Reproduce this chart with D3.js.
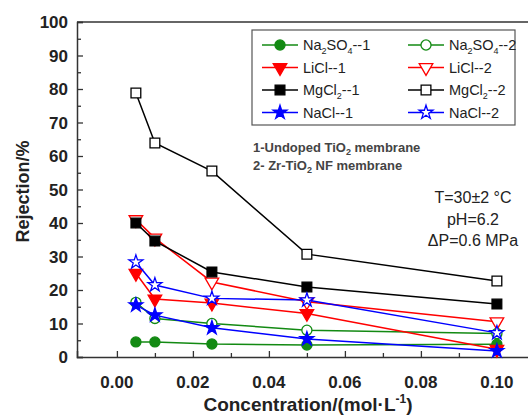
<!DOCTYPE html>
<html>
<head>
<meta charset="utf-8">
<script src="https://cdn.jsdelivr.net/npm/d3@7"></script>
<style>
  body { margin: 0; background: #fff; }
  text { font-family: Arial, "Liberation Sans", sans-serif; }
</style>
</head>
<body>
<div id="chart"></div>
<script>
// concentration values (mol/L) on x axis
const concentrations = [0.005, 0.01, 0.025, 0.05, 0.1];

// rejection (%)
const na2so4_1 = [4.5, 4.5, 3.9, 3.6, 3.8];
const na2so4_2 = [16.3, 11.5, 10.0, 8.0, 7.0];
const licl_1 = [25.0, 17.3, 16.1, 13.0, 2.3];
const licl_2 = [41.0, 35.5, 22.4, 16.5, 10.5];
const mgcl2_1 = [40.0, 34.6, 25.4, 20.9, 15.8];
const mgcl2_2 = [78.8, 63.9, 55.5, 30.7, 22.7];
const nacl_1 = [15.5, 12.5, 8.7, 5.4, 1.8];
const nacl_2 = [28.3, 21.5, 17.5, 17.0, 7.2];

const xTicks = [0, 0.02, 0.04, 0.06, 0.08, 0.10];
const yTicks = [0, 10, 20, 30, 40, 50, 60, 70, 80, 90, 100];

const series = [
    { name: ["Na", "2", "SO", "4", "--1"], values: na2so4_1, color: "#138a13", symbol: "circle", open: false },
    { name: ["Na", "2", "SO", "4", "--2"], values: na2so4_2, color: "#138a13", symbol: "circle", open: true },
    { name: ["LiCl--1"], values: licl_1, color: "#ff0000", symbol: "triangle", open: false },
    { name: ["LiCl--2"], values: licl_2, color: "#ff0000", symbol: "triangle", open: true },
    { name: ["MgCl", "2", "--1"], values: mgcl2_1, color: "#000000", symbol: "square", open: false },
    { name: ["MgCl", "2", "--2"], values: mgcl2_2, color: "#000000", symbol: "square", open: true },
    { name: ["NaCl--1"], values: nacl_1, color: "#0000ff", symbol: "star", open: false },
    { name: ["NaCl--2"], values: nacl_2, color: "#0000ff", symbol: "star", open: true }
];

const W = 528, H = 416;
const margin = { top: 22, right: 0, bottom: 59, left: 77 };

const svg = d3.select("#chart")
    .append("svg")
    .attr("width", W)
    .attr("height", H);

const x = d3.scaleLinear()
    .domain([-0.0105, 0.1095])
    .range([margin.left, 533]);

const y = d3.scaleLinear()
    .domain([0, 100])
    .range([H - margin.bottom, margin.top]);

const symbols = {
    circle: { type: d3.symbolCircle, size: 80, rot: 0 },
    triangle: { type: d3.symbolTriangle, size: 80, rot: 180 },
    square: { type: d3.symbolSquare, size: 95, rot: 0 },
    star: { type: d3.symbolStar, size: 60, rot: 0 }
};

// frame top line
svg.append("line")
    .attr("x1", margin.left).attr("x2", W)
    .attr("y1", y(100)).attr("y2", y(100))
    .attr("stroke", "#333").attr("stroke-width", 1.5);

// x axis, ticks pointing inward
const xAxis = svg.append("g")
    .attr("transform", `translate(0,${y(0)})`)
    .call(d3.axisTop(x).tickValues(d3.range(0, 0.11, 0.01)).tickSize(6).tickFormat(""));
xAxis.select(".domain").attr("stroke", "#333").attr("stroke-width", 1.5);
xAxis.selectAll(".tick line").attr("stroke", "#333").attr("stroke-width", 1.3)
    .attr("y2", (d, i) => i % 2 === 0 ? -6 : -4);

svg.append("g")
    .selectAll("text")
    .data(xTicks)
    .join("text")
    .attr("x", d => x(d))
    .attr("y", y(0) + 31)
    .attr("text-anchor", "middle")
    .attr("font-size", 17)
    .attr("font-weight", "bold")
    .attr("fill", "#222")
    .text(d => d.toFixed(2));

// y axis, ticks pointing inward
const yAxis = svg.append("g")
    .attr("transform", `translate(${margin.left},0)`)
    .call(d3.axisRight(y).tickValues(d3.range(0, 101, 5)).tickSize(6).tickFormat(""));
yAxis.select(".domain").attr("stroke", "#333").attr("stroke-width", 1.5);
yAxis.selectAll(".tick line").attr("stroke", "#333").attr("stroke-width", 1.3)
    .attr("x2", (d, i) => i % 2 === 0 ? 6 : 4);

svg.append("g")
    .selectAll("text")
    .data(yTicks)
    .join("text")
    .attr("x", margin.left - 9)
    .attr("y", d => y(d))
    .attr("dy", "0.36em")
    .attr("text-anchor", "end")
    .attr("font-size", 17)
    .attr("font-weight", "bold")
    .attr("fill", "#222")
    .text(d => d);

// lines and markers
const line = d3.line()
    .x((d, i) => x(concentrations[i]))
    .y(d => y(d));

const drawMarker = (g, s, cx, cy) => {
    const sym = symbols[s.symbol];
    g.append("path")
        .attr("d", d3.symbol().type(sym.type).size(sym.size)())
        .attr("transform", `translate(${cx},${cy}) rotate(${sym.rot})`)
        .attr("fill", s.open ? "#fff" : s.color)
        .attr("stroke", s.color)
        .attr("stroke-width", 1.3);
};

series.forEach(s => {
    const g = svg.append("g");
    g.append("path")
        .datum(s.values)
        .attr("d", line)
        .attr("fill", "none")
        .attr("stroke", s.color)
        .attr("stroke-width", 1.5);
    s.values.forEach((v, i) => drawMarker(g, s, x(concentrations[i]), y(v)));
});

// legend
const legend = svg.append("g");
legend.append("rect")
    .attr("x", 252).attr("y", 30)
    .attr("width", 263).attr("height", 95)
    .attr("fill", "#fff")
    .attr("stroke", "#555")
    .attr("stroke-width", 1.2);

series.forEach((s, i) => {
    const col = i % 2, row = Math.floor(i / 2);
    const lx = 262 + col * 146, ly = 45 + row * 22.5;
    const g = legend.append("g");
    g.append("line")
        .attr("x1", lx).attr("x2", lx + 36)
        .attr("y1", ly).attr("y2", ly)
        .attr("stroke", s.color).attr("stroke-width", 1.5);
    drawMarker(g, s, lx + 18, ly);
    const t = g.append("text")
        .attr("x", lx + 41)
        .attr("y", ly + 5)
        .attr("font-size", 14.5)
        .attr("fill", "#222");
    s.name.forEach((part, j) => {
        const sub = s.name.length > 1 && j % 2 === 1;
        t.append("tspan")
            .attr("font-size", sub ? 9 : 14.5)
            .attr("dy", sub ? 4 : (j > 0 ? -4 : 0))
            .text(part);
    });
});

// annotations
const note = svg.append("g")
    .attr("font-family", "'Open Sans', sans-serif")
    .attr("font-size", 13)
    .attr("font-weight", "600")
    .attr("fill", "#444");
const n1 = note.append("text").attr("x", 253).attr("y", 152);
n1.append("tspan").text("1-Undoped TiO");
n1.append("tspan").attr("font-size", 9).attr("dy", 3).text("2");
n1.append("tspan").attr("dy", -3).text(" membrane");
const n2 = note.append("text").attr("x", 253).attr("y", 170);
n2.append("tspan").text("2- Zr-TiO");
n2.append("tspan").attr("font-size", 9).attr("dy", 3).text("2");
n2.append("tspan").attr("dy", -3).text(" NF membrane");

const cond = ["T=30\u00b12 \u00b0C", "pH=6.2", "\u0394P=0.6 MPa"];
svg.append("g")
    .selectAll("text")
    .data(cond)
    .join("text")
    .attr("x", 473)
    .attr("y", (d, i) => 203 + i * 21.5)
    .attr("text-anchor", "middle")
    .attr("font-size", 16)
    .attr("fill", "#222")
    .text(d => d);

// axis titles
const xt = svg.append("text")
    .attr("x", 308)
    .attr("y", 411)
    .attr("text-anchor", "middle")
    .attr("font-size", 19)
    .attr("font-weight", "bold")
    .attr("fill", "#222");
xt.append("tspan").text("Concentration/(mol\u00b7L");
xt.append("tspan").attr("font-size", 12).attr("dy", -8).text("-1");
xt.append("tspan").attr("dy", 8).text(")");

svg.append("text")
    .attr("transform", `translate(29,${y(50) + 2}) rotate(-90)`)
    .attr("text-anchor", "middle")
    .attr("font-size", 18)
    .attr("font-weight", "bold")
    .attr("fill", "#222")
    .text("Rejection/%");
</script>
</body>
</html>
